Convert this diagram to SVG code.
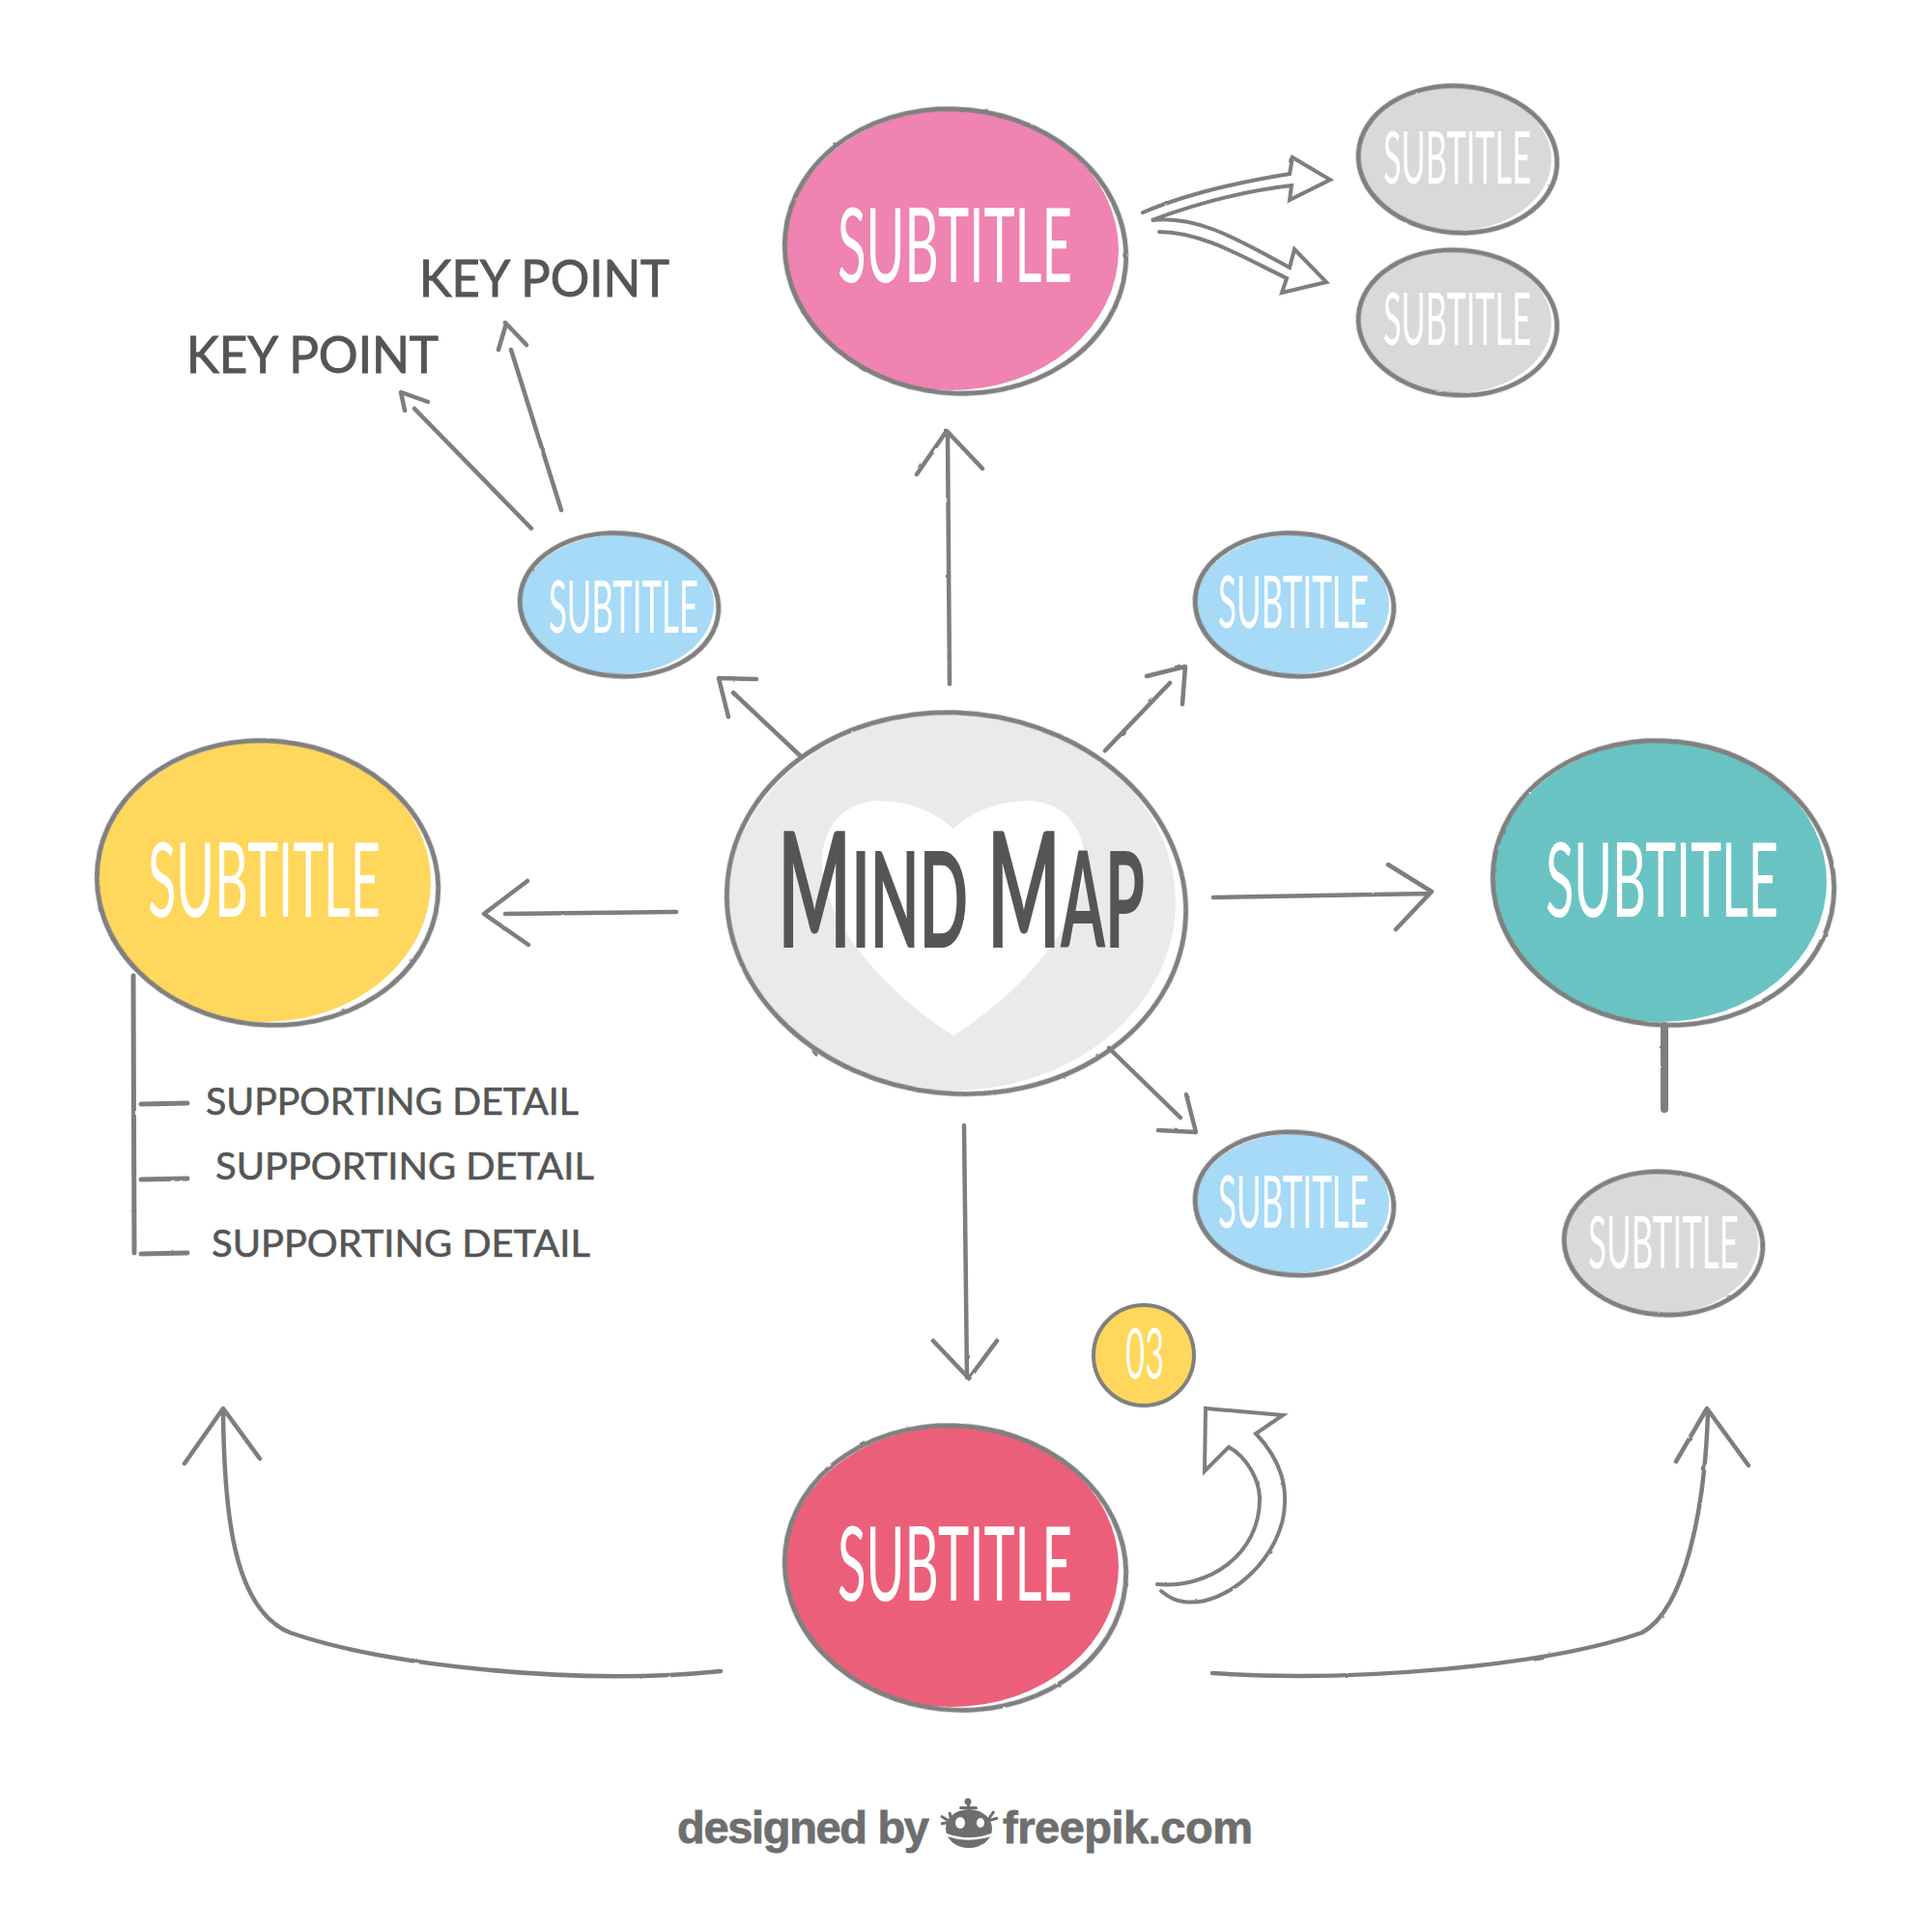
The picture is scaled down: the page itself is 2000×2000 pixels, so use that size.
<svg xmlns="http://www.w3.org/2000/svg" width="2000" height="2000" viewBox="0 0 2000 2000">
<defs>
<filter id="rough" x="-5%" y="-5%" width="110%" height="110%"><feTurbulence type="fractalNoise" baseFrequency="0.07" numOctaves="2" seed="4"/><feDisplacementMap in="SourceGraphic" scale="1.8"/></filter>
</defs>
<style>
text{font-family:"Lato","Liberation Sans",sans-serif}
.o{fill:none;stroke:#808080;stroke-width:5;filter:url(#rough)}
.c{fill:none;stroke:#7e7e7e;stroke-width:4.5;stroke-linecap:round;stroke-linejoin:round}
.b{fill:none;stroke:#7e7e7e;stroke-width:4;stroke-linejoin:miter;stroke-linecap:round}
.s{fill:#fff;font-weight:400}
.big{font-size:107px}
.sm{font-size:76px}
.k{fill:#555;font-size:53px;font-weight:400;stroke:#555;stroke-width:1}
.d{fill:#555;font-size:39px;font-weight:400;stroke:#555;stroke-width:.6}
.w{fill:#6e6e6e;font-family:"Liberation Sans",Arial,sans-serif;font-weight:700;font-size:47px;stroke:#6e6e6e;stroke-width:.8}
</style>
<rect width="2000" height="2000" fill="#fff"/>
<g id="connectors">
<g filter="url(#rough)">
<path class="c" d="M983 708 L981 449 M949 491 L980 446 L1017 485"/>
<path class="c" d="M700 944 L523 946 M546 912 L501 946 L547 978"/>
<path class="c" d="M1256 929 L1480 925 M1437 895 L1482 923 L1445 962"/>
<path class="c" d="M998 1165 L1001 1426 M966 1388 L1003 1427 L1032 1388"/>
<path class="c" d="M828 782 L759 717 M783 703 L744 702 L754 742"/>
<path class="c" d="M1144 777 L1211 707 M1187 700 L1227 690 L1224 729"/>
<path class="c" d="M1148 1085 L1222 1157 M1228 1133 L1238 1172 L1199 1170"/>
<path class="c" d="M842 1088 L845 1092" style="stroke-width:3"/>
<path class="c" d="M550 547 L429 423 M443 416 L415 406 L419 425"/>
<path class="c" d="M581 528 L529 362 M516 362 L524 335 L545 357"/>
<path class="c" d="M746 1730 C600 1745 400 1725 300 1690 C240 1665 232 1560 231 1462 M191 1515 L231 1458 L269 1510"/>
<path class="c" d="M1255 1732 C1400 1742 1600 1725 1700 1690 C1745 1665 1765 1560 1768 1462 M1735 1513 L1767 1458 L1810 1517"/>
<path class="c" style="stroke-width:8" d="M1723 1062 L1723 1148"/>
<path class="c" d="M138 1010 L139 1297" style="stroke-width:5"/>
<path class="c" d="M146 1143 L194 1142 M146 1221 L194 1220 M146 1298 L194 1297" style="stroke-width:5"/>
<path class="b" d="M1183 220 C1230 200 1285 188 1335 180 L1338 163 L1377 186 L1335 207 L1337 192 C1285 198 1235 212 1192 228 C1240 222 1285 250 1335 277 L1340 258 L1373 292 L1327 303 L1332 288 C1290 268 1245 240 1200 240"/>
<path class="b" d="M1198 1640 C1250 1645 1305 1610 1304 1550 C1303 1530 1290 1508 1272 1498 L1247 1523 L1248 1458 L1328 1465 L1300 1484 C1320 1505 1331 1530 1330 1555 C1330 1610 1270 1665 1225 1658 C1215 1657 1208 1652 1202 1647"/>
</g>
</g>
<g id="node-center">
<ellipse cx="985" cy="934" rx="232" ry="195" fill="#eaeaea"/>
<path d="M987 858 C968 840 940 829 910 829 C875 829 851 855 851 893 C851 955 920 1030 987 1072 C1054 1030 1123 955 1123 893 C1123 855 1099 829 1064 829 C1034 829 1006 840 987 858 Z" fill="#fff"/>
<ellipse class="o" cx="990" cy="935" rx="238" ry="197" transform="rotate(6 990 935)"/>
<text transform="translate(805 981) scale(.483 1)" font-size="167" font-weight="700" fill="#555">M<tspan font-size="137">IND</tspan> M<tspan font-size="137">AP</tspan></text>
</g>
<g id="node-pink">
<ellipse cx="985" cy="259" rx="173" ry="145" fill="#ef83b1"/>
<ellipse class="o" cx="989" cy="260" rx="177" ry="147" transform="rotate(6 989 260)"/>
<text class="s big" x="867" y="292" textLength="243" lengthAdjust="spacingAndGlyphs">SUBTITLE</text>
</g>
<g id="node-yellow">
<ellipse cx="273" cy="913" rx="173" ry="145" fill="#ffd75c"/>
<ellipse class="o" cx="277" cy="914" rx="177" ry="147" transform="rotate(6 277 914)"/>
<text class="s big" x="153" y="949" textLength="241" lengthAdjust="spacingAndGlyphs">SUBTITLE</text>
</g>
<g id="node-teal">
<ellipse cx="1718" cy="913" rx="173" ry="145" fill="#6ac3c3"/>
<ellipse class="o" cx="1722" cy="914" rx="177" ry="147" transform="rotate(6 1722 914)"/>
<text class="s big" x="1600" y="949" textLength="241" lengthAdjust="spacingAndGlyphs">SUBTITLE</text>
</g>
<g id="node-red">
<ellipse cx="985" cy="1622" rx="173" ry="145" fill="#ec5f7a"/>
<ellipse class="o" cx="989" cy="1623" rx="177" ry="147" transform="rotate(6 989 1623)"/>
<text class="s big" x="867" y="1657" textLength="243" lengthAdjust="spacingAndGlyphs">SUBTITLE</text>
</g>
<g id="node-blue-1">
<ellipse cx="639" cy="626" rx="100" ry="72" fill="#a6daf7"/>
<ellipse class="o" cx="641" cy="626" rx="103" ry="74" transform="rotate(4 641 626)"/>
<text class="s sm" x="568" y="655" textLength="155" lengthAdjust="spacingAndGlyphs">SUBTITLE</text>
</g>
<g id="node-blue-2">
<ellipse cx="1338" cy="626" rx="100" ry="72" fill="#a6daf7"/>
<ellipse class="o" cx="1340" cy="626" rx="103" ry="74" transform="rotate(4 1340 626)"/>
<text class="s sm" x="1261" y="650" textLength="156" lengthAdjust="spacingAndGlyphs">SUBTITLE</text>
</g>
<g id="node-blue-3">
<ellipse cx="1338" cy="1246" rx="100" ry="72" fill="#a6daf7"/>
<ellipse class="o" cx="1340" cy="1246" rx="103" ry="74" transform="rotate(4 1340 1246)"/>
<text class="s sm" x="1261" y="1271" textLength="156" lengthAdjust="spacingAndGlyphs">SUBTITLE</text>
</g>
<g id="node-grey-1">
<ellipse cx="1506" cy="165" rx="100" ry="74" fill="#d9d9d9"/>
<ellipse class="o" cx="1509" cy="165" rx="103" ry="76" transform="rotate(4 1509 165)"/>
<text class="s sm" x="1432" y="190" textLength="153" lengthAdjust="spacingAndGlyphs">SUBTITLE</text>
</g>
<g id="node-grey-2">
<ellipse cx="1506" cy="334" rx="100" ry="73" fill="#d9d9d9"/>
<ellipse class="o" cx="1509" cy="334" rx="103" ry="75" transform="rotate(4 1509 334)"/>
<text class="s sm" x="1432" y="357" textLength="153" lengthAdjust="spacingAndGlyphs">SUBTITLE</text>
</g>
<g id="node-grey-3">
<ellipse cx="1720" cy="1287" rx="100" ry="73" fill="#d9d9d9"/>
<ellipse class="o" cx="1722" cy="1287" rx="103" ry="74" transform="rotate(4 1722 1287)"/>
<text class="s sm" x="1644" y="1313" textLength="156" lengthAdjust="spacingAndGlyphs">SUBTITLE</text>
</g>
<g id="node-number">
<circle cx="1183" cy="1403" r="52" fill="#ffd75c"/>
<circle cx="1184" cy="1403" r="52" fill="none" stroke="#808080" stroke-width="4"/>
<text x="1165" y="1427" textLength="40" lengthAdjust="spacingAndGlyphs" font-size="72" font-weight="400" fill="#fff">03</text>
</g>
<g id="key-points">
<text class="k" x="434" y="307" textLength="259" lengthAdjust="spacingAndGlyphs">KEY POINT</text>
<text class="k" x="193" y="386" textLength="261" lengthAdjust="spacingAndGlyphs">KEY POINT</text>
</g>
<g id="details">
<text class="d" x="213" y="1154" textLength="386" lengthAdjust="spacingAndGlyphs">SUPPORTING DETAIL</text>
<text class="d" x="223" y="1221" textLength="392" lengthAdjust="spacingAndGlyphs">SUPPORTING DETAIL</text>
<text class="d" x="219" y="1301" textLength="392" lengthAdjust="spacingAndGlyphs">SUPPORTING DETAIL</text>
</g>
<g id="watermark">
<text class="w" x="701" y="1908" textLength="261" lengthAdjust="spacing">designed by</text>
<text class="w" x="1038" y="1908" textLength="259" lengthAdjust="spacing">freepik.com</text>
<g fill="#6e6e6e">
<ellipse cx="1003" cy="1893" rx="24" ry="20"/>
<circle cx="1002" cy="1865" r="3.5"/>
<rect x="993" y="1870" width="19" height="3" rx="1.5"/>
<rect x="1001" y="1866" width="3" height="6"/>
<path d="M974 1880 L984 1886 M974 1888 L984 1886 M983 1876 L985 1886 M1029 1875 L1022 1885 M1033 1882 L1022 1885" stroke="#6e6e6e" stroke-width="3" fill="none"/>
</g>
<ellipse cx="994" cy="1887" rx="5" ry="6" fill="#fff"/>
<ellipse cx="1015" cy="1887" rx="4" ry="5" fill="#fff"/>
<path d="M979 1899 Q1003 1908 1027 1899" fill="none" stroke="#fff" stroke-width="2.5"/>
</g>
</svg>
